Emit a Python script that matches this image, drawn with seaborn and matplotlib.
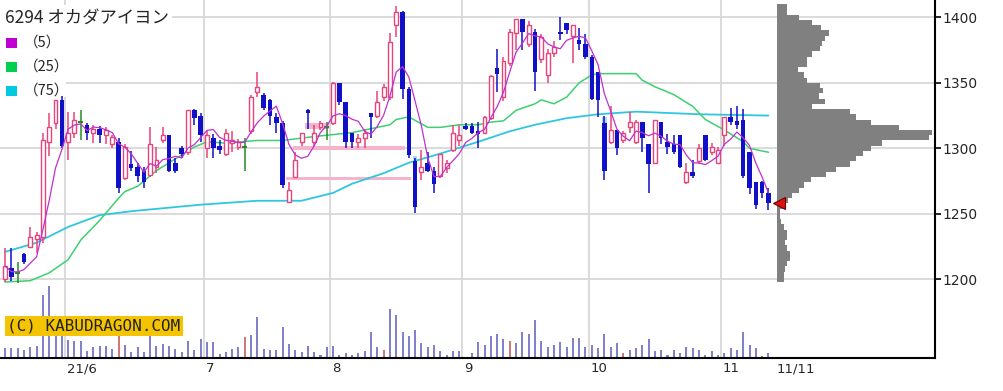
import numpy as np
import pandas as pd
import matplotlib
matplotlib.use("Agg")
import matplotlib.pyplot as plt
from matplotlib.patches import Rectangle
import seaborn as sns

# --- data --------------------------------------------------------------
title = "6294 オカダアイヨン"

# daily candles (18 May - 11 Nov 2021)
opens = [1200, 1209, 1205, 1219, 1225, 1231, 1232, 1305, 1319, 1337,
         1305, 1312, 1320, 1318, 1312, 1315, 1310, 1303, 1305, 1277,
         1288, 1286, 1283, 1280, 1286, 1306, 1310, 1289, 1300, 1297,
         1329, 1325, 1300, 1308, 1302, 1296, 1304, 1301, 1301, 1313,
         1343, 1341, 1337, 1324, 1319, 1259, 1278, 1305, 1329, 1305,
         1316, 1316, 1319, 1350, 1335, 1312, 1305, 1308, 1327, 1325,
         1339, 1339, 1394, 1404, 1345, 1290, 1282, 1289, 1283, 1279,
         1285, 1299, 1306, 1317, 1317, 1313, 1312, 1323, 1361, 1339,
         1365, 1388, 1399, 1380, 1389, 1368, 1356, 1373, 1389, 1396,
         1386, 1383, 1380, 1370, 1358, 1319, 1305, 1314, 1306, 1316,
         1305, 1320, 1303, 1289, 1320, 1305, 1303, 1310, 1274, 1282,
         1290, 1310, 1297, 1289, 1310, 1324, 1321, 1322, 1297, 1274,
         1274, 1266]
highs = [1224, 1224, 1213, 1220, 1240, 1236, 1312, 1327, 1337, 1340,
         1328, 1328, 1329, 1319, 1318, 1317, 1316, 1310, 1308, 1303,
         1298, 1289, 1286, 1316, 1301, 1316, 1310, 1293, 1302, 1329,
         1330, 1327, 1313, 1311, 1306, 1315, 1313, 1307, 1308, 1341,
         1358, 1342, 1338, 1327, 1321, 1274, 1297, 1312, 1330, 1318,
         1321, 1320, 1351, 1350, 1335, 1312, 1311, 1315, 1327, 1344,
         1349, 1388, 1409, 1405, 1347, 1293, 1299, 1297, 1286, 1296,
         1291, 1318, 1318, 1319, 1319, 1320, 1325, 1356, 1376, 1370,
         1391, 1399, 1399, 1397, 1391, 1387, 1376, 1382, 1400, 1396,
         1394, 1392, 1387, 1371, 1358, 1325, 1332, 1314, 1313, 1328,
         1322, 1320, 1303, 1322, 1320, 1311, 1310, 1310, 1289, 1291,
         1303, 1310, 1304, 1301, 1324, 1331, 1332, 1330, 1297, 1274,
         1275, 1270]
lows = [1198, 1199, 1197, 1212, 1224, 1220, 1228, 1294, 1315, 1300,
        1291, 1308, 1306, 1306, 1304, 1304, 1303, 1300, 1266, 1276,
        1283, 1274, 1270, 1278, 1281, 1304, 1282, 1281, 1293, 1295,
        1318, 1305, 1293, 1293, 1296, 1294, 1297, 1299, 1283, 1311,
        1339, 1329, 1318, 1312, 1270, 1258, 1277, 1302, 1315, 1302,
        1314, 1306, 1318, 1333, 1300, 1300, 1300, 1300, 1308, 1323,
        1336, 1337, 1385, 1338, 1293, 1251, 1276, 1282, 1266, 1277,
        1281, 1297, 1302, 1314, 1311, 1300, 1311, 1322, 1343, 1336,
        1363, 1375, 1375, 1377, 1344, 1365, 1350, 1370, 1383, 1387,
        1365, 1375, 1368, 1337, 1324, 1276, 1303, 1295, 1304, 1312,
        1303, 1297, 1266, 1288, 1303, 1296, 1296, 1285, 1273, 1277,
        1288, 1290, 1295, 1288, 1302, 1318, 1315, 1277, 1265, 1254,
        1262, 1253]
closes = [1210, 1202, 1205, 1213, 1232, 1234, 1306, 1316, 1337, 1302,
          1312, 1322, 1320, 1312, 1315, 1310, 1314, 1309, 1270, 1301,
          1285, 1279, 1274, 1303, 1291, 1310, 1283, 1283, 1296, 1329,
          1323, 1310, 1310, 1300, 1299, 1312, 1306, 1305, 1301, 1339,
          1347, 1331, 1325, 1319, 1272, 1268, 1291, 1312, 1327, 1312,
          1319, 1316, 1350, 1335, 1305, 1305, 1308, 1312, 1324, 1335,
          1347, 1381, 1404, 1345, 1295, 1255, 1286, 1283, 1273, 1296,
          1289, 1312, 1310, 1315, 1312, 1311, 1324, 1355, 1357, 1367,
          1389, 1399, 1389, 1394, 1358, 1385, 1373, 1377, 1387, 1390,
          1394, 1380, 1370, 1338, 1337, 1283, 1314, 1300, 1312, 1320,
          1320, 1308, 1288, 1322, 1308, 1301, 1297, 1286, 1282, 1279,
          1300, 1291, 1301, 1299, 1324, 1320, 1318, 1279, 1270, 1257,
          1266, 1258]

# volume (thousand shares)
volume = [10, 10, 10, 8, 11, 12, 63, 72, 42, 30,
          18, 17, 17, 7, 11, 12, 12, 9, 28, 13,
          6, 11, 6, 22, 12, 14, 12, 9, 6, 17,
          8, 19, 16, 16, 4, 6, 9, 11, 21, 23,
          41, 9, 8, 8, 31, 14, 8, 6, 12, 6,
          3, 11, 12, 3, 5, 3, 5, 7, 26, 11,
          8, 49, 43, 26, 22, 28, 15, 11, 13, 7,
          3, 7, 7, 1, 5, 16, 13, 22, 24, 19,
          17, 15, 26, 24, 38, 17, 11, 13, 16, 11,
          20, 20, 11, 13, 10, 24, 11, 15, 5, 8,
          10, 13, 19, 7, 8, 3, 8, 5, 11, 10,
          8, 3, 7, 3, 5, 10, 8, 26, 13, 10,
          2, 5]
vol_red = [18, 38, 60, 80, 98]

# moving averages (read at sample days)
ma25_idx = [0, 4, 7, 10, 12, 15, 18, 19, 21, 24, 30, 32, 35, 40, 44, 49, 55,
            59, 61, 62, 64, 67, 69, 72, 75, 77, 79, 81, 84, 85, 87, 89, 91,
            93, 94, 100, 101, 103, 106, 109, 111, 114, 117, 118, 121]
ma25_val = [1198, 1199, 1205, 1215, 1230, 1245, 1262, 1267, 1271, 1283, 1301,
            1305, 1304, 1306, 1306, 1309, 1312, 1316, 1318, 1322, 1324, 1316,
            1316, 1318, 1318, 1320, 1321, 1329, 1334, 1337, 1334, 1339, 1350,
            1356, 1357, 1357, 1352, 1347, 1341, 1332, 1322, 1314, 1305, 1300,
            1297]
ma75_idx = [0, 5, 10, 15, 20, 31, 40, 47, 52, 55, 60, 64, 69, 75, 80, 84, 89,
            94, 100, 110, 121]
ma75_val = [1221, 1228, 1240, 1249, 1252, 1257, 1260, 1260, 1266, 1273, 1281,
            1289, 1296, 1305, 1313, 1318, 1323, 1326, 1328, 1326, 1325]

# price-by-volume profile, 4-yen bins from 1200 up
profile_price = list(range(1200, 1409, 4))
profile_vol = [7, 7, 8, 10, 13, 13, 10, 8, 10, 10, 7, 4, 3, 3, 6, 11, 15, 22,
               27, 34, 48, 58, 72, 78, 85, 93, 103, 150, 153, 120, 93, 78, 72,
               35, 47, 42, 46, 43, 30, 27, 21, 30, 30, 35, 43, 45, 47, 51, 44,
               35, 22, 10, 10]

# unfilled gaps: (first day, last day, low, high)
gaps_up = [(46, 63, 1299, 1302), (45, 64, 1276, 1278), (48, 51, 1315, 1319)]
gaps_down = [(65, 65, 1291, 1294), (95, 95, 1318, 1324)]

month_first = [10, 32, 52, 73, 93, 114]
month_labels = ["21/6", "7", "8", "9", "10", "11"]
last_label = "11/11"

# --- style ---------------------------------------------------------------
sns.set_style("white")
plt.rcParams["font.family"] = ["DejaVu Sans", "Noto Sans CJK JP"]

UP = "#e8447a"
DOWN = "#1010c8"
FLAT = "#2a8a2a"
C5, C25, C75 = "#c030d0", "#3ed070", "#30c6e0"
GRID = "#d8d8d8"

W, H = 1004, 391
fig = plt.figure(figsize=(W / 100, H / 100), dpi=100)
rect = [0, 33 / H, 935 / W, 358 / H]
vol_ax = fig.add_axes(rect, zorder=0)
ax = fig.add_axes(rect, zorder=1)
ax.set_facecolor("none")

n = len(closes)
x = np.arange(n)
o, h, l, c = map(np.array, (opens, highs, lows, closes))
xlim = (-0.8, 147.4)

# volume
vol_cols = [("#d07878" if i in vol_red else "#8282cc") for i in range(n)]
vol_ax.bar(x, volume, width=0.32, color=vol_cols, linewidth=0)
vol_ax.set_xlim(xlim)
vol_ax.set_ylim(0, 358)
vol_ax.axis("off")

# grid
for p in [1200, 1250, 1300, 1350, 1400]:
    ax.axhline(p, color=GRID, lw=1.3, zorder=0.5)
for m in month_first:
    ax.axvline(m - 0.5, color=GRID, lw=1.3, zorder=0.5)

# legend background (hides the grid behind it)
px = lambda xx, yy: (xx / W, 1 - yy / H)
ax.add_patch(Rectangle(px(0, 30), 172 / W, 25 / H, transform=fig.transFigure,
                       facecolor="white", edgecolor="none", zorder=1))
ax.add_patch(Rectangle(px(0, 97), 66 / W, 67 / H, transform=fig.transFigure,
                       facecolor="white", edgecolor="none", zorder=1))

# gap bands
for a, b, lo, hi in gaps_up:
    ax.add_patch(Rectangle((a - 0.4, lo), b - a + 0.8, hi - lo,
                           facecolor="#f6b4cc", edgecolor="none", zorder=1.5))
for a, b, lo, hi in gaps_down:
    ax.add_patch(Rectangle((a - 0.35, lo), b - a + 0.7, hi - lo,
                           facecolor="#b4d4f4", edgecolor="none", zorder=1.5))

# moving averages
ma5 = pd.Series(c).rolling(5, min_periods=1).mean()
sns.lineplot(x=ma75_idx, y=ma75_val, ax=ax, color=C75, lw=1.3, zorder=2)
sns.lineplot(x=ma25_idx, y=ma25_val, ax=ax, color=C25, lw=1.1, zorder=2)

# candles
up = c > o
dn = c < o
fl = c == o
wick_col = np.where(up, UP, np.where(dn, DOWN, FLAT))
ax.vlines(x, l, h, colors=wick_col, lw=1.1, zorder=3)
ax.bar(x[up], (c - o)[up], bottom=o[up], width=0.62, facecolor="white",
       edgecolor=UP, linewidth=1.0, zorder=4)
ax.bar(x[dn], (o - c)[dn], bottom=c[dn], width=0.72, color=DOWN,
       linewidth=0, zorder=4)
ax.hlines(c[fl], x[fl] - 0.4, x[fl] + 0.4, colors=FLAT, lw=1.5, zorder=4)

sns.lineplot(x=x, y=ma5.values, ax=ax, color=C5, lw=0.9, zorder=5)

# volume profile
prof_left = n + 0.3
prof = np.array(profile_vol, dtype=float)
ax.barh(profile_price, prof / prof.max() * 24.7, left=prof_left, height=4,
        color="#808080", linewidth=0, zorder=3)
ax.plot(prof_left + 0.3, c[-1], marker="<", ms=8, color="#e01010",
        mec="#700000", mew=0.8, zorder=6)

# axes
ax.set_xlim(xlim)
ax.set_ylim(1140, 1413.2)
ax.yaxis.tick_right()
ax.set_yticks([1200, 1250, 1300, 1350, 1400])
ax.tick_params(axis="y", right=True, length=4, width=1.2, color="black",
               labelsize=10, pad=1.5)
ax.set_xticks([])
for s in ["top", "left"]:
    ax.spines[s].set_visible(False)
for s in ["right", "bottom"]:
    ax.spines[s].set_color("black")
    ax.spines[s].set_linewidth(1.5)

xt = ax.get_xaxis_transform()
for m, lab in zip(month_first, month_labels):
    ax.text(m - 0.2, -0.012, lab, transform=xt, ha="left", va="top",
            fontsize=9.5)
ax.text(prof_left, -0.012, last_label, transform=xt, ha="left", va="top",
        fontsize=9.5)

# legend
fig.text(*px(5, 18), title, fontsize=12.5, va="center", ha="left",
         family=["Noto Sans CJK JP", "DejaVu Sans"], zorder=10)
for k, (lab, col) in enumerate([("（5）", "#c000d0"), ("（25）", "#00d050"),
                                 ("（75）", "#00c8e0")]):
    yy = 43 + 24 * k
    fig.patches.append(Rectangle(px(6, yy + 5), 11 / W, 10 / H,
                                 transform=fig.transFigure, facecolor=col,
                                 edgecolor="none", zorder=10))
    fig.text(*px(24, yy), lab, fontsize=10.5, va="center", ha="left",
             family=["Noto Sans CJK JP", "DejaVu Sans"], zorder=10)

# watermark
fig.text(*px(7, 326), "(C) KABUDRAGON.COM", fontsize=11.5, va="center",
         ha="left", family="DejaVu Sans Mono", color="#222222", zorder=10,
         bbox=dict(boxstyle="square,pad=0.15", facecolor="#f5c400",
                   edgecolor="none"))

fig.savefig("out.png", dpi=100)
